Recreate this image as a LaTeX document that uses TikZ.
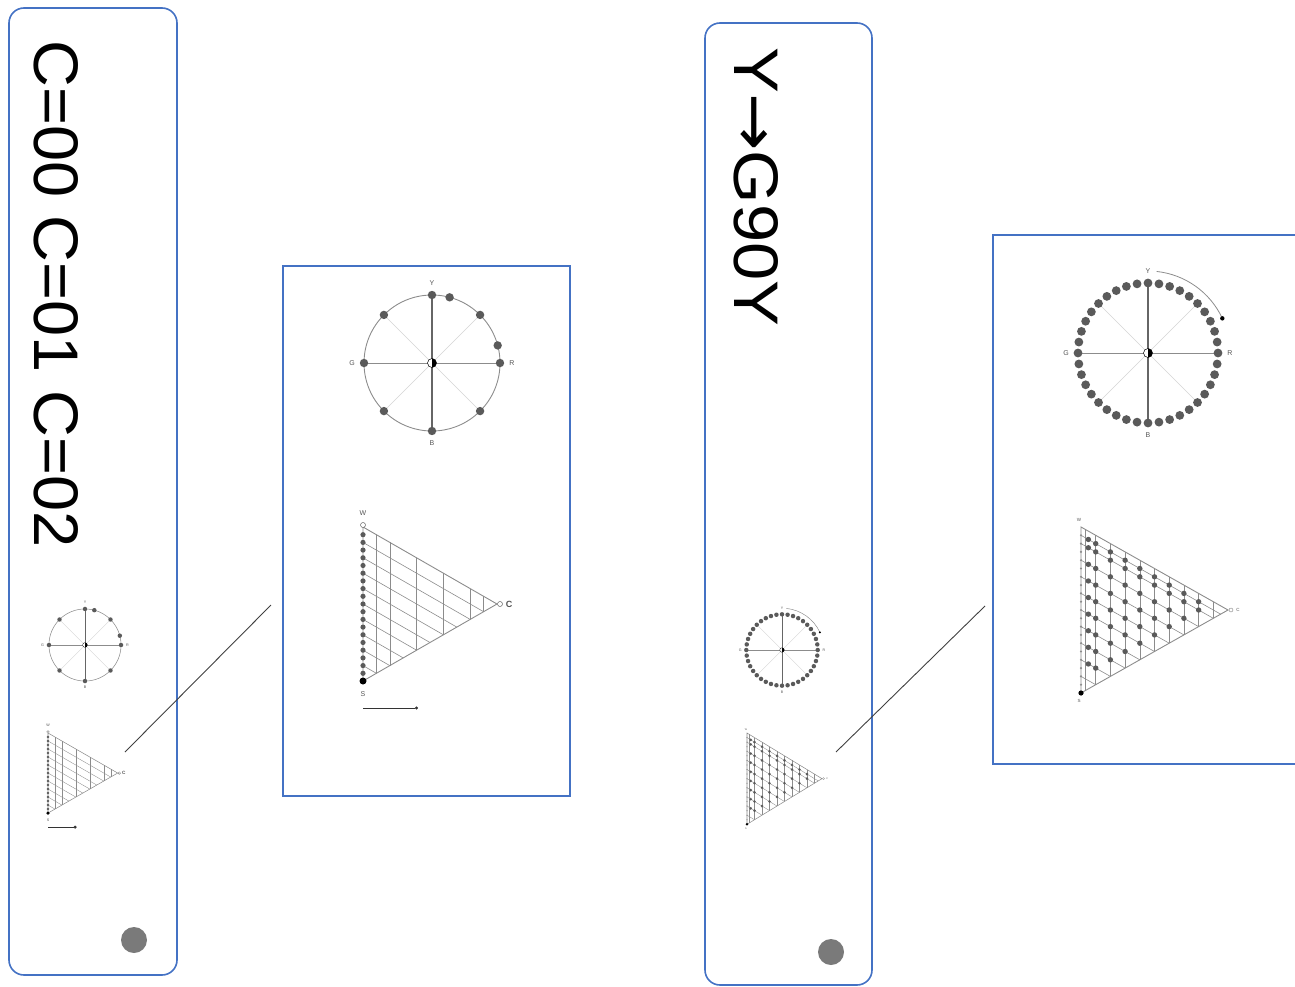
\documentclass[tikz,border=0pt]{standalone}
\usepackage{fontspec}
\setmainfont{Liberation Sans}
\newfontfamily\djv{DejaVu Sans}
\usetikzlibrary{arrows.meta}
\definecolor{cardblue}{HTML}{4472C4}
\definecolor{dotgray}{HTML}{5A5A5A}
\definecolor{linegray}{HTML}{8C8C8C}
\definecolor{lightgray2}{HTML}{D4D4D4}
\definecolor{labgray}{HTML}{555555}
\definecolor{bigdot}{HTML}{7A7A7A}
\def\lwf{1}
\tikzset{
 card/.style={draw=cardblue, line width=1.6pt, rounded corners=15pt},
 zoombox/.style={draw=cardblue, line width=1.3pt},
 leader/.style={draw=black!75, line width=0.9pt},
 ringline/.style={draw=linegray, line width=\lwf*0.9pt},
 diagline/.style={draw=lightgray2, line width=\lwf*0.6pt},
 hline/.style={draw=linegray, line width=\lwf*0.8pt},
 vline/.style={draw=black!60, line width=\lwf*1.3pt},
 gridline/.style={draw=linegray, line width=\lwf*0.6pt},
 hdot/.style={fill=dotgray},
 lab/.style={text=labgray, font=\fontsize{7}{8}\selectfont, inner sep=0pt},
 tinylab/.style={text=labgray, font=\fontsize{4.5}{5}\selectfont, inner sep=0pt},
 bigtext/.style={font=\fontsize{63}{70}\selectfont, rotate=-90, inner sep=0pt},
}
\newcommand\halfdot[1]{%
  \fill[white] (0,0) circle (4.5);
  \fill[black] (90:4.5) arc (90:-90:4.5) -- cycle;
  \draw[black, line width=\lwf*0.5pt] (0,0) circle (4.5);
}
% ring with 10 dots, r = 68
\newcommand\ringA[1]{%
  \draw[diagline] (45:68) -- (225:68) (135:68) -- (-45:68);
  \draw[hline] (180:68) -- (0:68);
  \draw[vline] (-90:68) -- (90:68);
  \draw[ringline] (0,0) circle (68);
  \foreach \a in {90,75,45,15,0,-45,-90,-135,180,135} \fill[hdot] (-\a:68) circle (4.2);
  \halfdot{#1}
  \node[lab] (#1Y) at (0,-80) {Y};
  \node[lab] (#1B) at (0,80) {B};
  \node[lab] (#1G) at (-80,0) {G};
  \node[lab] (#1R) at (80,0) {R};
}
% triangle with edge dots, W at origin
\newcommand\triA[1]{%
  \foreach \cv in {0.1,0.2,0.4,0.6,0.8,0.9}
    \draw[gridline] ({\cv*134},{\cv*77}) -- ({\cv*134},{154-\cv*77});
  \foreach \sv in {0.1,0.2,0.3,0.4,0.5,0.6,0.7,0.8,0.9}
    \draw[gridline] (0,{\sv*154}) -- ({(1-\sv)*134},{\sv*154+(1-\sv)*77});
  \draw[ringline] (0,0) -- (134,77) -- (0,154) -- cycle;
  \foreach \k in {1,...,19} \fill[dotgray] (0,{\k*7.7}) circle (2.6);
  \draw[black!60, fill=white, line width=\lwf*0.5pt] (0,-2) circle (2.5);
  \fill[black] (0,154) circle (3.5);
  \draw[black!60, fill=white, line width=\lwf*0.5pt] (137,77) circle (2.5);
  \node[lab] (#1W) at (0,-14) {W};
  \node[lab] (#1S) at (0,167) {S};
  \node[lab, font=\fontsize{9}{10}\selectfont\bfseries] (#1C) at (146,77) {C};
  \coordinate (#1a1) at (0,181);
  \coordinate (#1a2) at (55,181);
  \draw[black!80, line width=\lwf*0.7pt, -{Circle[length=3pt]}] (#1a1) -- (#1a2);
}
% ring with 40 dots, r = 70
\newcommand\ringB[1]{%
  \draw[diagline] (45:70) -- (225:70) (135:70) -- (-45:70);
  \draw[hline] (180:70) -- (0:70);
  \draw[vline] (-90:70) -- (90:70);
  \foreach \a in {0,9,...,351} \fill[hdot] (\a:70) circle (4.4);
  \halfdot{#1}
  \draw[linegray, line width=\lwf*0.8pt] (-84:82) arc (-84:-25:82);
  \fill[black] (-25:82) circle (2.2);
  \node[lab] (#1Y) at (0,-82) {Y};
  \node[lab] (#1B) at (0,82) {B};
  \node[lab] (#1G) at (-82,0) {G};
  \node[lab] (#1R) at (82,0) {R};
}
% dense triangle, W at origin
\newcommand\triB[1]{%
  \foreach \cv in {0.03,0.1,0.2,0.3,0.4,0.5,0.6,0.7,0.8,0.9}
    \draw[gridline] ({\cv*147},{\cv*83}) -- ({\cv*147},{166-\cv*83});
  \foreach \sv in {0.05,0.1,0.2,0.3,0.4,0.5,0.6,0.7,0.8,0.9}
    \draw[gridline] (0,{\sv*166}) -- ({(1-\sv)*147},{\sv*166+(1-\sv)*83});
  \draw[ringline] (0,0) -- (147,83) -- (0,166) -- cycle;
  \foreach \k in {1,...,19} \fill[black!45] (0,{\k*8.3}) circle (1.2);
  \foreach \cv in {0.05,0.1,0.2,0.3,0.4,0.5,0.6,0.7,0.8}{
    \foreach \sv in {0.05,0.1,0.2,0.3,0.4,0.5,0.6,0.7,0.8,0.9}{
      \pgfmathsetmacro\tv{\sv+\cv}
      \ifdim\tv pt<0.91pt \fill[hdot] ({\cv*147},{\sv*166+\cv*83}) circle (2.7);\fi
    }}
  \fill[black] (0,166) circle (2.6);
  \draw[black!50, fill=white, line width=\lwf*0.4pt] (150,83) circle (2);
  \node[tinylab] (#1W) at (-2,-7) {W};
  \node[tinylab] (#1S) at (-2,174) {S};
  \node[tinylab] (#1C) at (157,83) {C};
}
\begin{document}
\begin{tikzpicture}[x=1pt,y=-1pt]
\useasboundingbox (0,0) rectangle (1295,987);
% cards
\draw[card] (9,8) rectangle (177,975);
\draw[card] (705,23) rectangle (872,985);
% zoom boxes
\draw[zoombox] (283,266) rectangle (570,796);
\draw[zoombox] (993,235) rectangle (1310,764);
% card titles
\node[bigtext] (t1) at (56,294) {\scalebox{1.03}[1]{C=00 C=01 C=02}};
\node[bigtext] (t2) at (756,187) {\scalebox{1.09}[1]{Y{\djv →}G90Y}};
% bottom dots
\fill[bigdot] (134,940) circle (13);
\fill[bigdot] (831,952) circle (13);
% leaders
\coordinate (l1a) at (125,752);
\coordinate (l1b) at (271,605);
\coordinate (l2a) at (836,752);
\coordinate (l2b) at (985,606);
\draw[leader] (l1a) -- (l1b);
\draw[leader] (l2a) -- (l2b);
% left big
\begin{scope}[shift={(432,363)}] \ringA{pa} \end{scope}
\begin{scope}[shift={(363,527)}] \triA{pb} \end{scope}
% left small
\begin{scope}[shift={(85,645)}, scale=0.53, transform shape] \def\lwf{0.6}\ringA{pc} \end{scope}
\begin{scope}[shift={(48,733)}, scale=0.52, transform shape] \def\lwf{0.6}\triA{pd} \end{scope}
% right big
\begin{scope}[shift={(1148,353)}] \ringB{pe} \end{scope}
\begin{scope}[shift={(1081,527)}] \triB{pf} \end{scope}
% right small
\begin{scope}[shift={(782,650)}, scale=0.51, transform shape] \def\lwf{0.6}\ringB{pg} \end{scope}
\begin{scope}[shift={(747,733)}, xscale=0.51, yscale=0.55, transform shape] \def\lwf{0.6}\triB{ph} \end{scope}
\end{tikzpicture}
\end{document}
